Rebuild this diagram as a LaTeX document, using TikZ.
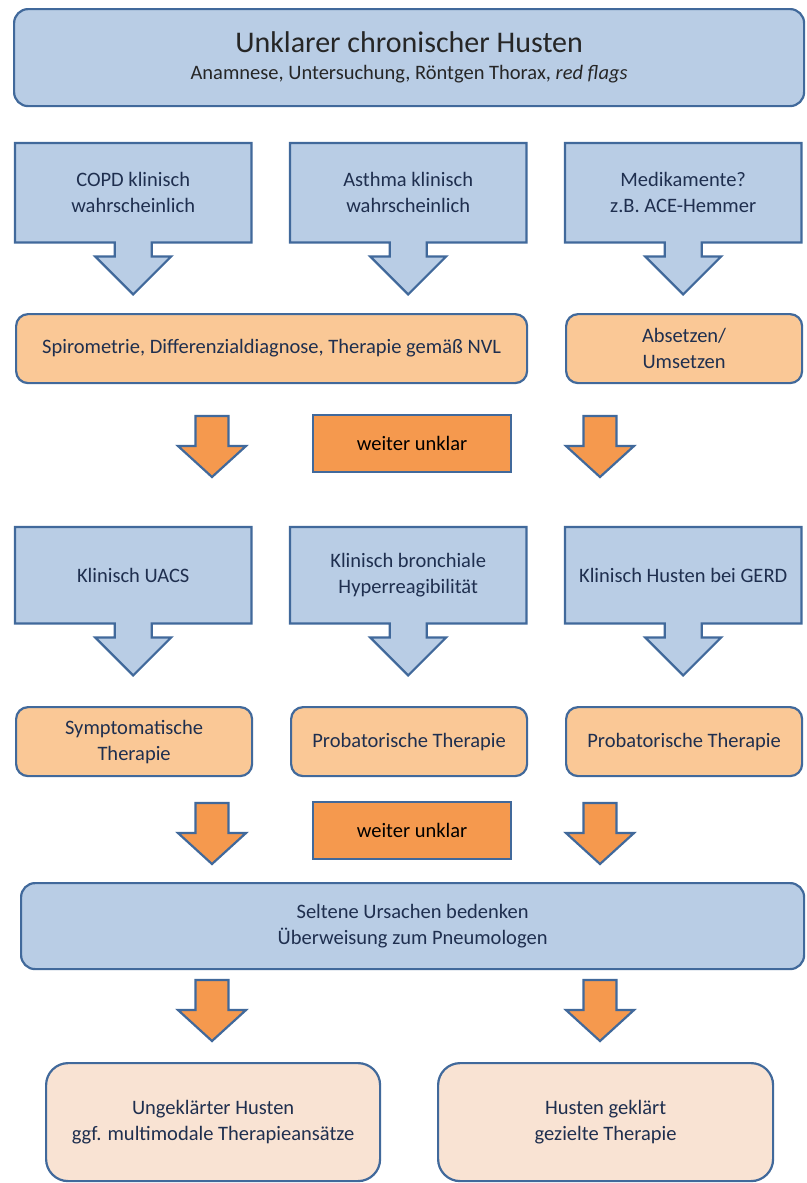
\documentclass[tikz,border=0pt]{standalone}
\usepackage{fontspec}
\setmainfont{Carlito}
\usetikzlibrary{backgrounds}

\definecolor{boxblue}{HTML}{B9CDE5}
\definecolor{lineblue}{HTML}{41699B}
\definecolor{boxorange}{HTML}{FAC896}
\definecolor{arroworange}{HTML}{F5994E}
\definecolor{boxpeach}{HTML}{F9E3D3}
\definecolor{textblue}{HTML}{1F2F4F}

\tikzset{
  every node/.style={font=\fontsize{20.5}{26}\selectfont, text=textblue, align=center, inner sep=0pt},
  bluebox/.style={anchor=north west, minimum width=236pt, minimum height=#1},
  bluebox/.default=99pt,
  callout/.style={draw=lineblue, fill=boxblue, line width=2.2pt},
  headbox/.style={anchor=north west, draw=lineblue, fill=boxblue, line width=2.2pt, rounded corners=14pt},
  orangebox/.style={anchor=north west, draw=lineblue, fill=boxorange, line width=2.2pt, rounded corners=12pt, minimum height=69pt},
  unclearbox/.style={anchor=north west, draw=lineblue, fill=arroworange, line width=2.2pt, minimum width=198pt, minimum height=57pt, text=black},
  peachbox/.style={anchor=north west, draw=lineblue, fill=boxpeach, line width=2.2pt, rounded corners=22pt, minimum height=118pt},
  downarrow/.pic={
    \draw[lineblue, fill=arroworange, line width=2.2pt, line join=miter]
      (-16.5,0) -- (16.5,0) -- (16.5,30) -- (34,30) -- (0,61) -- (-34,30) -- (-16.5,30) -- cycle;
  }
}

% rectangle with attached down arrow, drawn behind the node
\newcommand{\calloutshape}[1]{%
  \begin{scope}[on background layer]
    \draw[callout, line join=miter] (#1.north west) -- (#1.north east) -- (#1.south east)
      -- ([xshift=18.5pt]#1.south) -- ([xshift=18.5pt,yshift=-14pt]#1.south)
      -- ([xshift=38pt,yshift=-14pt]#1.south) -- ([yshift=-52pt]#1.south)
      -- ([xshift=-38pt,yshift=-14pt]#1.south) -- ([xshift=-18.5pt,yshift=-14pt]#1.south)
      -- ([xshift=-18.5pt]#1.south) -- (#1.south west) -- cycle;
  \end{scope}}

\begin{document}
\begin{tikzpicture}[x=1pt, y=-1pt]
  \useasboundingbox (0,0) rectangle (806,1183);

  % Start
  \node (start) [headbox, minimum width=790pt, minimum height=97pt] at (13,8)
    {{\fontsize{30}{34}\selectfont\color{black!85} Unklarer chronischer Husten}\\[1pt]
     {\color{black!85}Anamnese, Untersuchung, Röntgen Thorax, \textit{red flags}}};

  % First clinical suspicion
  \node (copd) [bluebox] at (15,143) {COPD klinisch\\wahrscheinlich};
  \node (asthma) [bluebox] at (290,143) {Asthma klinisch\\wahrscheinlich};
  \node (drugs) [bluebox] at (565,143) {Medikamente?\\z.B. ACE-Hemmer};
  \calloutshape{copd}
  \calloutshape{asthma}
  \calloutshape{drugs}

  \node (spiro) [orangebox, minimum width=511pt] at (15,313)
    {Spirometrie, Differenzialdiagnose, Therapie gemäß NVL};
  \node (stop) [orangebox, minimum width=236pt] at (565,313) {Absetzen/\\Umsetzen};

  % Still unclear
  \pic at (212,416) {downarrow};
  \pic at (600,416) {downarrow};
  \node (unclearA) [unclearbox] at (312,414) {weiter unklar};

  % Second clinical suspicion
  \node (uacs) [bluebox=96pt] at (15,527) {Klinisch UACS};
  \node (hyper) [bluebox=96pt] at (290,527) {Klinisch bronchiale\\Hyperreagibilität};
  \node (gerd) [bluebox=96pt] at (565,527) {Klinisch Husten bei GERD};
  \calloutshape{uacs}
  \calloutshape{hyper}
  \calloutshape{gerd}

  \node (symp) [orangebox, minimum width=236pt] at (15,706) {Symptomatische\\Therapie};
  \node (probA) [orangebox, minimum width=236pt] at (290,706) {Probatorische Therapie};
  \node (probB) [orangebox, minimum width=236pt] at (565,706) {Probatorische Therapie};

  \pic at (212,803) {downarrow};
  \pic at (600,803) {downarrow};
  \node (unclearB) [unclearbox] at (312,801) {weiter unklar};

  % Referral
  \node (rare) [headbox, minimum width=783pt, minimum height=86pt] at (20,882)
    {Seltene Ursachen bedenken\\Überweisung zum Pneumologen};

  \pic at (212,980) {downarrow};
  \pic at (600,980) {downarrow};

  % Outcome
  \node (open) [peachbox, minimum width=334pt] at (45,1062)
    {Ungeklärter Husten\\ggf. multimodale Therapieansätze};
  \node (solved) [peachbox, minimum width=335pt] at (437,1062)
    {Husten geklärt\\gezielte Therapie};
\end{tikzpicture}
\end{document}
